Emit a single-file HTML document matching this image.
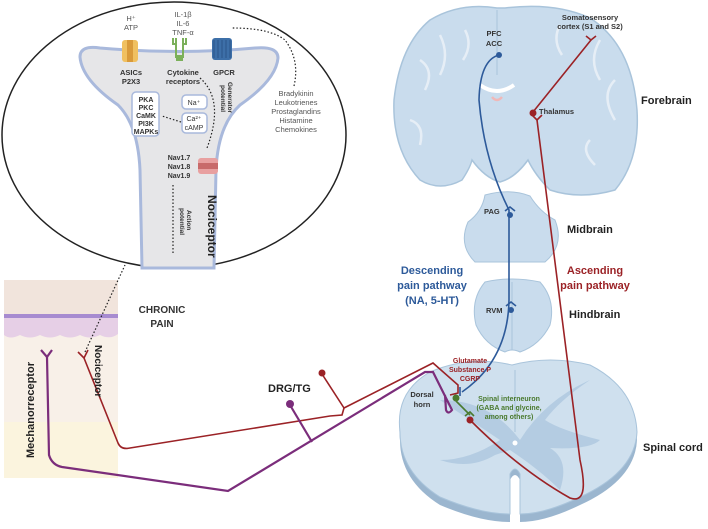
<!DOCTYPE html>
<html><head><meta charset="utf-8"><style>
html,body{margin:0;padding:0;background:#fff;}
svg{display:block;font-family:"Liberation Sans",sans-serif;}
</style></head><body>
<svg width="708" height="529" viewBox="0 0 708 529" xmlns="http://www.w3.org/2000/svg">
<!-- skin -->
<rect x="4" y="280" width="114" height="198" fill="#f8f0e8"/>
<rect x="4" y="280" width="114" height="34" fill="#f1e4dc"/>
<rect x="4" y="314" width="114" height="4" fill="#a78bd0"/>
<path d="M4 318 H118 V334 Q110 340 100 335 Q90 340 80 335 Q70 340 60 335 Q50 340 40 335 Q30 340 20 335 Q10 340 4 335Z" fill="#e6cfe6"/>
<rect x="4" y="422" width="114" height="56" fill="#fbf4de"/>

<!-- ellipse zoom -->
<ellipse cx="174" cy="135" rx="172" ry="133" fill="#fff" stroke="#222" stroke-width="1.5"/>
<path d="M80 57 Q80 45 100 48 Q180 55 255 48 Q278 46 278 58 Q276 80 240 105 Q218 125 216 170 L214 268 L142 268 L140 170 Q138 125 118 105 Q82 80 80 57Z" fill="#e6e6e8" stroke="#a9b9dc" stroke-width="3"/>
<rect x="122" y="40" width="16" height="22" rx="3" fill="#f0c060"/><rect x="127" y="40" width="6" height="22" fill="#d99a3a"/>
<path d="M176 38 v20 M183 38 v20 M173 38 v6 h3 M186 38 v6 h-3" stroke="#7bb05a" stroke-width="2" fill="none"/>
<rect x="176" y="55" width="7" height="6" fill="#7bb05a"/>
<rect x="212" y="38" width="20" height="22" rx="3" fill="#3d6fa8"/>
<path d="M214 40 v18 M218 40 v18 M222 40 v18 M226 40 v18 M230 40 v18" stroke="#2c558a" stroke-width="1"/>
<text font-size="7.5" fill="#555" text-anchor="middle"><tspan x="131" y="21">H⁺</tspan><tspan x="131" y="30">ATP</tspan><tspan x="183" y="17">IL-1β</tspan><tspan x="183" y="26">IL-6</tspan><tspan x="183" y="35">TNF-α</tspan></text>
<text font-size="7.5" font-weight="bold" fill="#333" text-anchor="middle"><tspan x="131" y="75">ASICs</tspan><tspan x="131" y="84">P2X3</tspan><tspan x="183" y="75">Cytokine</tspan><tspan x="183" y="84">receptors</tspan><tspan x="224" y="75">GPCR</tspan></text>
<text font-size="7.5" fill="#555" text-anchor="middle"><tspan x="296" y="96">Bradykinin</tspan><tspan x="296" y="105">Leukotrienes</tspan><tspan x="296" y="114">Prostaglandins</tspan><tspan x="296" y="123">Histamine</tspan><tspan x="296" y="132">Chemokines</tspan></text>
<path d="M294 86 Q300 60 285 40 Q270 28 232 28" fill="none" stroke="#222" stroke-width="1.2" stroke-dasharray="1.5 2"/>
<rect x="132" y="92" width="27" height="44" rx="4" fill="#fff" stroke="#a9b9dc" stroke-width="1.5"/>
<text font-size="7" font-weight="bold" fill="#333" text-anchor="middle"><tspan x="146" y="102">PKA</tspan><tspan x="146" y="110">PKC</tspan><tspan x="146" y="118">CaMK</tspan><tspan x="146" y="126">PI3K</tspan><tspan x="146" y="134">MAPKs</tspan></text>
<rect x="182" y="95" width="25" height="14" rx="4" fill="#fff" stroke="#a9b9dc" stroke-width="1.5"/>
<rect x="182" y="113" width="25" height="20" rx="4" fill="#fff" stroke="#a9b9dc" stroke-width="1.5"/>
<text font-size="7" fill="#333" text-anchor="middle"><tspan x="194" y="105">Na⁺</tspan><tspan x="194" y="121">Ca²⁺</tspan><tspan x="194" y="130">cAMP</tspan></text>
<path d="M181 122 L162 116" stroke="#222" stroke-width="1.2" stroke-dasharray="1.5 2"/>
<path d="M200 78 Q225 100 207 148" fill="none" stroke="#222" stroke-width="1.2" stroke-dasharray="1.5 2"/>
<text font-size="6.5" font-weight="bold" fill="#333" transform="translate(228,82) rotate(90)"><tspan x="0" y="0">Generator</tspan><tspan x="3" y="7">potential</tspan></text>
<rect x="198" y="158" width="20" height="16" rx="3" fill="#e8a0a0"/><rect x="198" y="163" width="20" height="6" fill="#c86a6a"/>
<text font-size="7" font-weight="bold" fill="#333" text-anchor="middle"><tspan x="179" y="160">Nav1.7</tspan><tspan x="179" y="169">Nav1.8</tspan><tspan x="179" y="178">Nav1.9</tspan></text>
<path d="M173 185 V255" stroke="#222" stroke-width="1.2" stroke-dasharray="1.5 2"/>
<text font-size="6.5" font-weight="bold" fill="#333" transform="translate(187,210) rotate(90)"><tspan x="0" y="0">Action</tspan><tspan x="-2" y="7">potential</tspan></text>
<text font-size="12" font-weight="bold" fill="#222" transform="translate(208,195) rotate(90)">Nociceptor</text>
<path d="M85 352 L125 265" stroke="#222" stroke-width="1.2" stroke-dasharray="1.5 2"/>
<text font-size="10" font-weight="bold" fill="#333" text-anchor="middle"><tspan x="162" y="313">CHRONIC</tspan><tspan x="162" y="327">PAIN</tspan></text>

<!-- forebrain -->
<path d="M497 8 Q460 2 430 20 Q400 45 394 100 Q392 150 420 180 Q440 192 462 180 Q470 168 472 160 Q485 178 500 182 Q515 178 528 160 Q535 175 550 190 Q580 200 615 190 Q640 160 637 110 Q632 45 590 18 Q555 2 505 8Z" fill="#c9dced" stroke="#a9c4db" stroke-width="1.5"/>
<path d="M420 60 q15 10 5 30 M440 35 q10 20 0 40 M600 40 q-12 20 0 40 M615 80 q-15 15 0 40 M410 120 q15 5 10 25 M590 140 q-10 10 5 25 M465 30 q8 15 -2 30 M560 25 q-8 15 2 30" stroke="#e6eef6" stroke-width="2.5" fill="none"/>
<path d="M497 10 V75" stroke="#a9c4db" stroke-width="1"/>
<path d="M480 85 Q497 97 514 85" stroke="#fff" stroke-width="4" fill="none"/>
<path d="M492 97 Q497 103 502 97" stroke="#f0b8b8" stroke-width="2.5" fill="none"/>
<!-- midbrain -->
<path d="M485 195 Q510 188 530 196 Q540 212 555 220 Q565 245 545 262 L475 262 Q458 245 468 222 Q482 212 485 195Z" fill="#c9dced" stroke="#a9c4db"/>
<!-- hindbrain -->
<path d="M485 282 Q512 276 540 282 Q556 300 550 325 Q540 345 520 352 Q512 348 505 352 Q485 345 476 325 Q470 300 485 282Z" fill="#c9dced" stroke="#a9c4db"/>
<path d="M512 282 V350" stroke="#a9c4db"/>
<!-- spinal cord -->
<path d="M400 440 Q395 400 430 380 Q470 362 512 372 Q550 362 590 372 Q635 395 637 440 Q635 480 580 505 Q545 522 520 522 V480 Q515 470 510 480 V522 Q480 522 440 505 Q400 480 400 440Z" fill="#9bb6cf"/>
<path d="M400 432 Q395 392 430 372 Q470 355 512 365 Q550 355 590 365 Q635 388 637 432 Q635 472 580 497 Q545 514 520 514 V474 Q515 464 510 474 V514 Q480 514 440 497 Q400 472 400 432Z" fill="#cfe0ee" stroke="#a9c4db"/>
<path d="M440 400 Q470 420 500 440 Q470 460 440 460 Q470 470 495 455 L510 450 Q540 470 560 490 Q570 460 550 448 Q590 450 600 440 Q560 430 545 420 Q560 400 590 380 Q545 400 520 440 Q490 400 440 400Z" fill="#adc7df" opacity="0.8"/>
<circle cx="515" cy="443" r="2.5" fill="#fff"/>
<path d="M515 370 V432" stroke="#a9c4db"/>

<!-- descending blue -->
<path d="M499 55 Q480 60 479 100 Q484 160 509 210 V300 Q508 360 462 392" fill="none" stroke="#2d5a9a" stroke-width="1.6"/>
<circle cx="499" cy="55" r="3" fill="#2d5a9a"/><circle cx="510" cy="215" r="3" fill="#2d5a9a"/><circle cx="511" cy="310" r="3" fill="#2d5a9a"/>
<path d="M505 211 L510 207 L515 211 M506 306 L511 302 L516 306 M460 387 V396" stroke="#2d5a9a" stroke-width="1.6" fill="none"/>
<!-- ascending red -->
<path d="M591 40 L533 112 M537 120 L580 460 Q590 505 570 498 Q520 470 470 420" fill="none" stroke="#9b2226" stroke-width="1.6"/>
<circle cx="533" cy="113" r="3.5" fill="#9b2226"/><circle cx="470" cy="420" r="3.5" fill="#9b2226"/>
<path d="M586 36 L591 40 L596 36 M532 115 L537 120 L542 115" stroke="#9b2226" stroke-width="1.6" fill="none"/>
<!-- interneuron -->
<path d="M456 401 L470 415" stroke="#4a7a2e" stroke-width="1.6"/><circle cx="456" cy="398" r="3.5" fill="#4a7a2e"/>
<path d="M465 416 L470 412 L474 416" stroke="#4a7a2e" stroke-width="1.6" fill="none"/>
<!-- nociceptor peripheral -->
<path d="M84 358 L118 443 Q121 450 130 448 L330 416 L342 415 L344 408 M344 408 L433 363 L458 385 L458 393 L450 395" fill="none" stroke="#9b2226" stroke-width="1.6"/>
<path d="M344 408 L322 374" stroke="#9b2226" stroke-width="1.6"/><circle cx="322" cy="373" r="3.5" fill="#9b2226"/>
<path d="M78 352 L84 358 L88 350" stroke="#9b2226" stroke-width="1.6" fill="none"/>
<!-- mechanoreceptor -->
<path d="M47 357 L49 455 Q52 465 62 467 L228 491 L425 372 L433 372 L452 410 Q448 415 446 410 L445 395" fill="none" stroke="#7b2d7b" stroke-width="2.2"/>
<path d="M312 442 L290 405" stroke="#7b2d7b" stroke-width="2.2"/><circle cx="290" cy="404" r="4" fill="#7b2d7b"/>
<path d="M41 350 L47 357 L52 350" stroke="#7b2d7b" stroke-width="2.2" fill="none"/>

<!-- labels -->
<text font-size="7.5" font-weight="bold" fill="#333" text-anchor="middle"><tspan x="494" y="36">PFC</tspan><tspan x="494" y="46">ACC</tspan><tspan x="590" y="20">Somatosensory</tspan><tspan x="590" y="29">cortex (S1 and S2)</tspan></text>
<text font-size="7.5" font-weight="bold" fill="#333"><tspan x="539" y="114">Thalamus</tspan><tspan x="484" y="214">PAG</tspan><tspan x="486" y="313">RVM</tspan></text>
<text font-size="11" font-weight="bold" fill="#222"><tspan x="641" y="104">Forebrain</tspan><tspan x="567" y="233">Midbrain</tspan><tspan x="569" y="318">Hindbrain</tspan><tspan x="643" y="451">Spinal cord</tspan><tspan x="268" y="392">DRG/TG</tspan></text>
<text font-size="11" font-weight="bold" fill="#2d5a9a" text-anchor="middle"><tspan x="432" y="274">Descending</tspan><tspan x="432" y="289">pain pathway</tspan><tspan x="432" y="304">(NA, 5-HT)</tspan></text>
<text font-size="11" font-weight="bold" fill="#9b2226" text-anchor="middle"><tspan x="595" y="274">Ascending</tspan><tspan x="595" y="289">pain pathway</tspan></text>
<text font-size="7" font-weight="bold" fill="#9b2226" text-anchor="middle"><tspan x="470" y="363">Glutamate</tspan><tspan x="470" y="372">Substance P</tspan><tspan x="470" y="381">CGRP</tspan></text>
<text font-size="7.5" font-weight="bold" fill="#333" text-anchor="middle"><tspan x="422" y="397">Dorsal</tspan><tspan x="422" y="407">horn</tspan></text>
<text font-size="7" font-weight="bold" fill="#4a7a2e" text-anchor="middle"><tspan x="509" y="401">Spinal interneuron</tspan><tspan x="509" y="410">(GABA and glycine,</tspan><tspan x="509" y="419">among others)</tspan></text>
<text font-size="11" font-weight="bold" fill="#222" transform="translate(34,458) rotate(-90)">Mechanorreceptor</text>
<text font-size="10" font-weight="bold" fill="#222" transform="translate(95,345) rotate(90)">Nociceptor</text>
</svg>
</body></html>
